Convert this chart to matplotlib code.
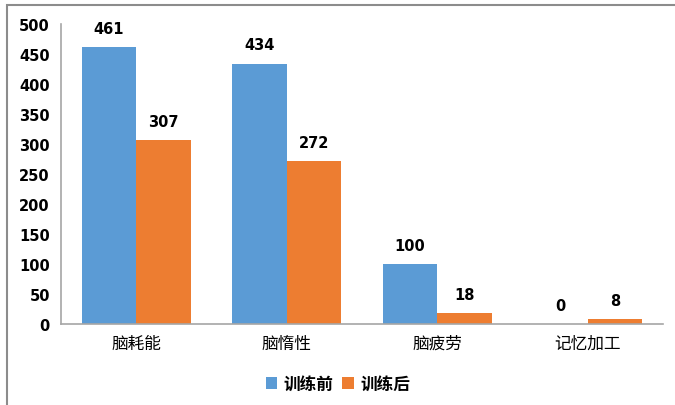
import matplotlib.pyplot as plt
import matplotlib.patches as mpatches
import numpy as np

plt.rcParams['font.family'] = ['Noto Sans CJK SC', 'DejaVu Sans']

categories = ['脑耗能', '脑惰性', '脑疲劳', '记忆加工']
before = [461, 434, 100, 0]
after = [307, 272, 18, 8]
series_names = ['训练前', '训练后']
colors = ['#5B9BD5', '#ED7D31']

W, H = 675, 406
fig = plt.figure(figsize=(W / 100, H / 100), dpi=100)
ax = fig.add_axes([61 / W, 1 - 325 / H, 602 / W, 300 / H])

x = np.arange(len(categories))
bw = 0.362
bars1 = ax.bar(x - bw / 2, before, bw, color=colors[0], label=series_names[0])
bars2 = ax.bar(x + bw / 2, after, bw, color=colors[1], label=series_names[1])

for bars, vals in ((bars1, before), (bars2, after)):
    for b, v in zip(bars, vals):
        ax.annotate(str(v), (b.get_x() + b.get_width() / 2, v),
                    xytext=(0, 8), textcoords='offset points',
                    ha='center', va='bottom', fontsize=10.5,
                    fontweight='bold', family='DejaVu Sans')

ax.set_xlim(-0.5, len(categories) - 0.5)
ax.set_ylim(0, 500)
ax.set_yticks(range(0, 501, 50))
ax.set_xticks(x)
ax.set_xticklabels(categories, fontsize=12, fontweight='medium')
for t in ax.get_yticklabels():
    t.set_fontweight('bold')
    t.set_fontsize(10.5)
    t.set_family('DejaVu Sans')
ax.tick_params(axis='both', length=0)
ax.tick_params(axis='y', pad=8)
ax.tick_params(axis='x', pad=8)

for s in ('top', 'right'):
    ax.spines[s].set_visible(False)
for s in ('left', 'bottom'):
    ax.spines[s].set_color('#A6A6A6')
    ax.spines[s].set_linewidth(1.2)

ax.legend(loc='center', bbox_to_anchor=(0.46, -0.2), ncol=2, frameon=False,
          handlelength=0.7, handleheight=0.7,
          handletextpad=0.4, columnspacing=0.5,
          prop={'weight': 'bold', 'size': 12})

# outer frame, only top and left edges fall inside the canvas
fig.patches.append(mpatches.Rectangle((7 / W, -0.1), 1.2, 1 - 6 / H + 0.1,
                                      transform=fig.transFigure, fill=False,
                                      edgecolor='#8C8C8C', linewidth=1.5))

fig.savefig('out.png', dpi=100)
